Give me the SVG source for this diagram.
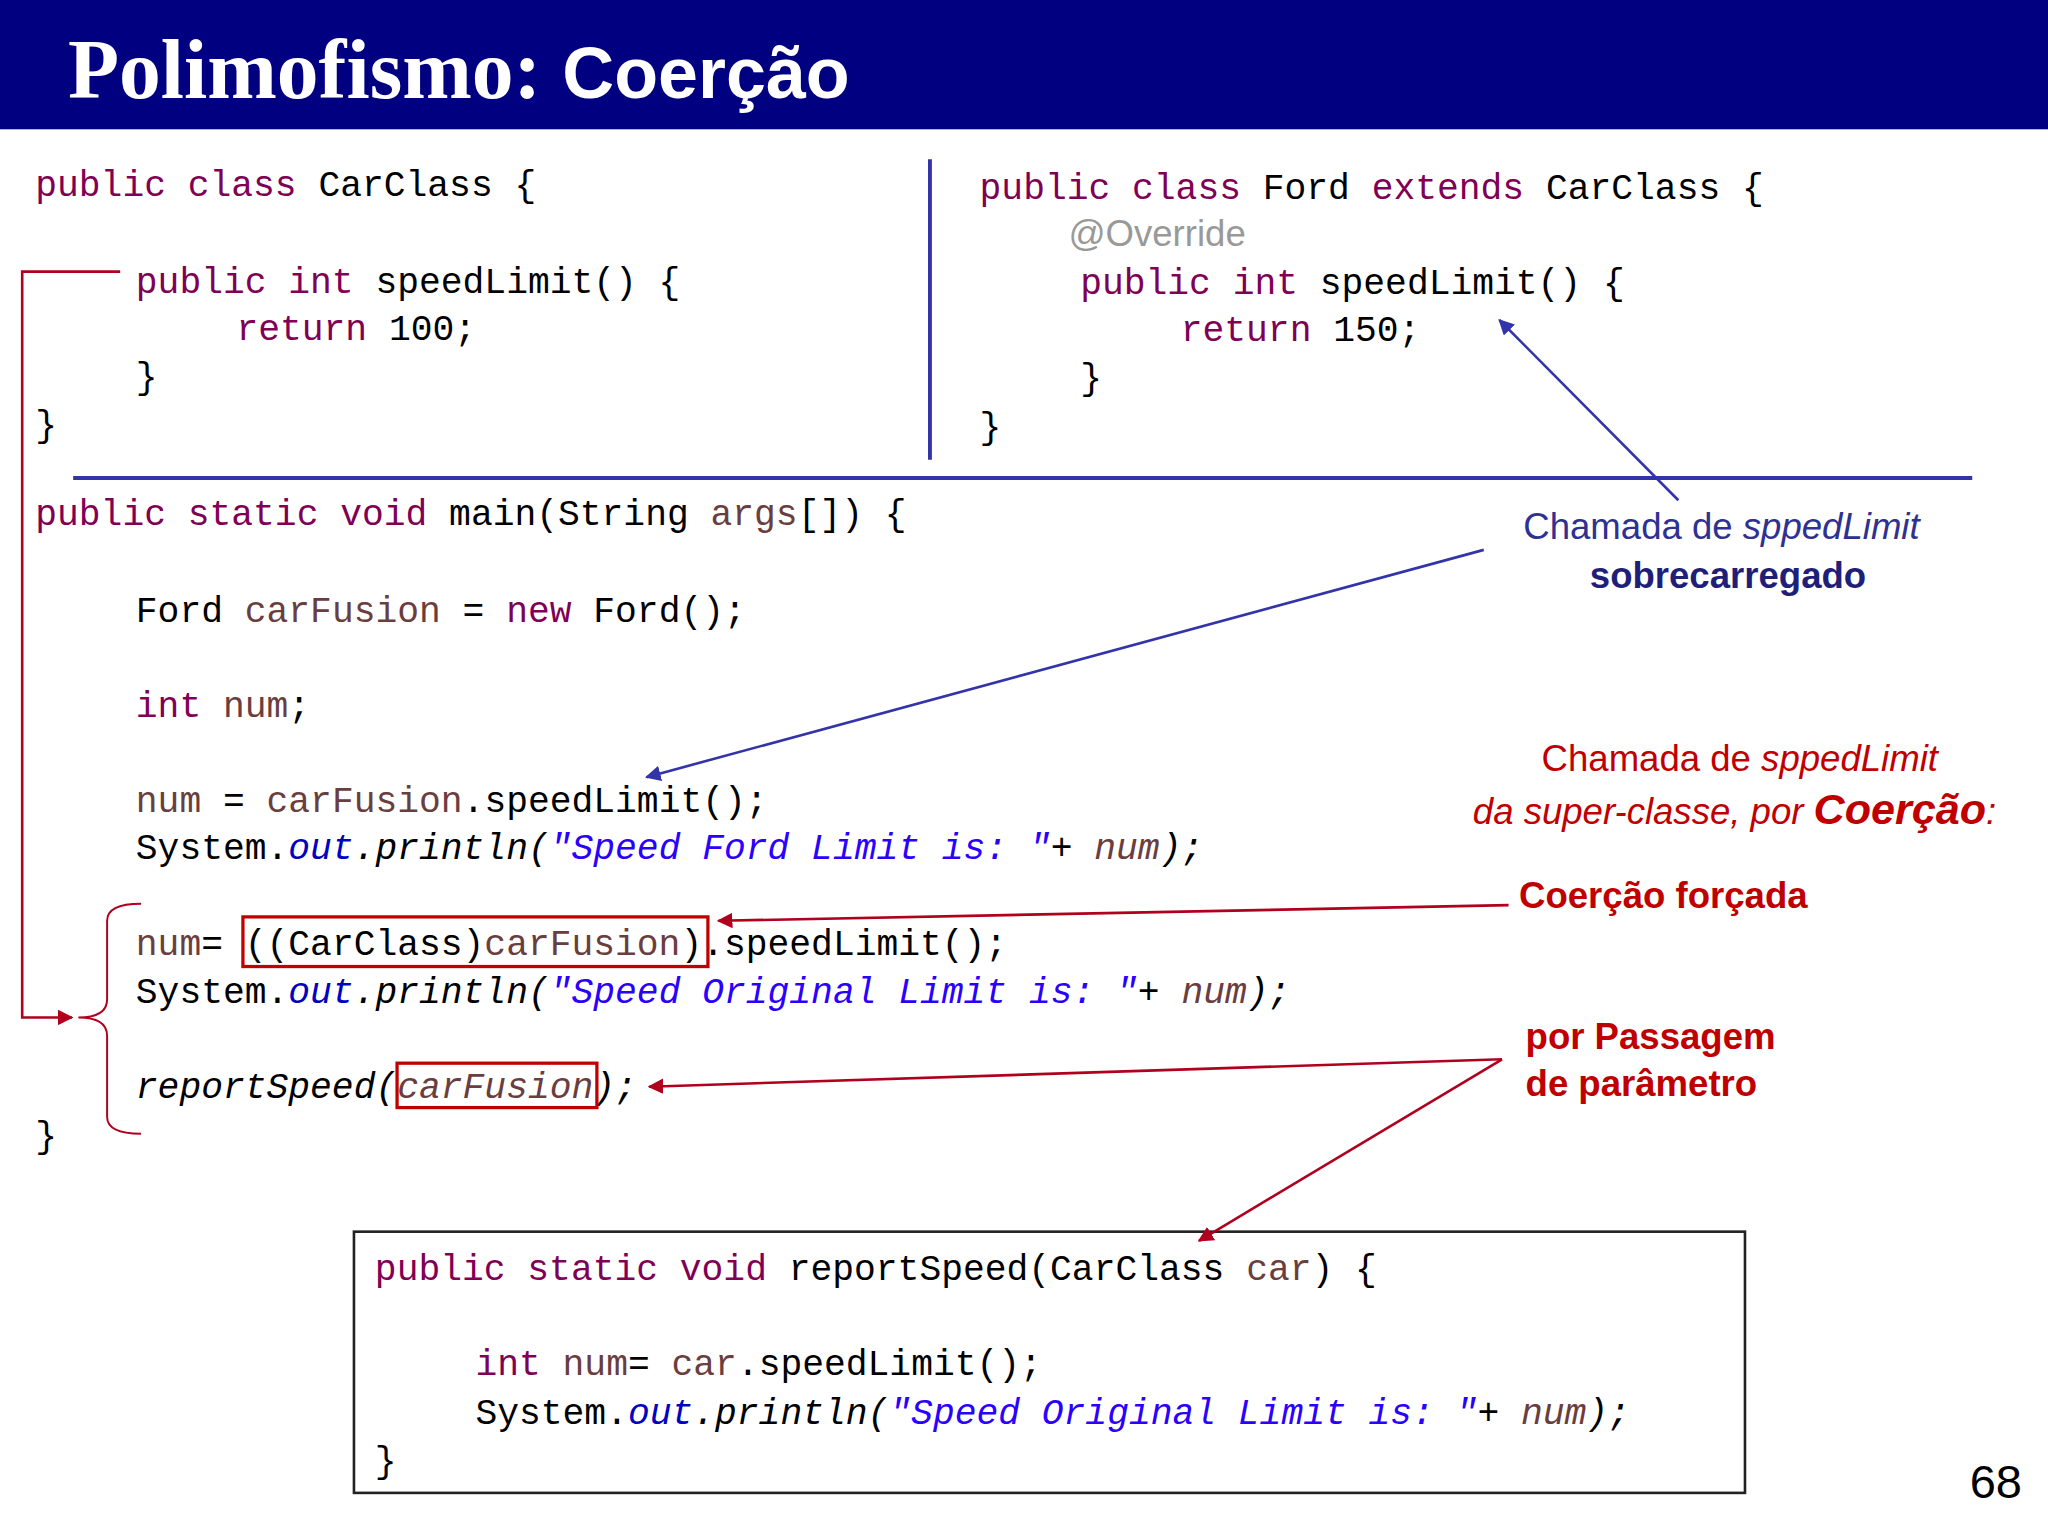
<svg xmlns="http://www.w3.org/2000/svg" width="2048" height="1536" viewBox="0 0 2048 1536">
<style>
.c{font-family:"Liberation Mono","DejaVu Sans Mono",monospace;font-size:27.8px;fill:#000}
.k{fill:#7f0055}.v{fill:#6a3e3e}.f{fill:#0000c0;font-style:italic}.s{fill:#2a00ff;font-style:italic}.i{font-style:italic}
.sb{font-family:"Liberation Sans",Arial,sans-serif;font-size:28px}
.bl{fill:#2e3192}.rd{fill:#c00000}
</style>
<defs>
<marker id="ab" viewBox="0 0 10 10" refX="9" refY="5" markerWidth="6" markerHeight="6" orient="auto"><path d="M0,0L10,5L0,10z" fill="#3333aa"/></marker>
<marker id="ar" viewBox="0 0 10 10" refX="9" refY="5" markerWidth="6" markerHeight="6" orient="auto"><path d="M0,0L10,5L0,10z" fill="#b0001e"/></marker>
</defs>
<rect width="2048" height="1536" fill="#fff"/>
<g transform="scale(1.30612)">
<g id="header">
<rect width="1568" height="99" fill="#000080"/>
<text x="52" y="75" fill="#fff" font-family="'Liberation Serif',serif" font-weight="bold" font-size="64">Polimofismo: <tspan font-family="'Liberation Sans',sans-serif" font-size="55">Coerção</tspan></text>
</g>
<g id="carclass">
<text class="c" x="27" y="150"><tspan class="k">public class</tspan> CarClass {</text>
<text class="c" x="104" y="224"><tspan class="k">public int</tspan> speedLimit() {</text>
<text class="c" x="181" y="260"><tspan class="k">return</tspan> 100;</text>
<text class="c" x="104" y="297">}</text>
<text class="c" x="27" y="334">}</text>
</g>
<g id="ford">
<text class="c" x="750" y="152"><tspan class="k">public class</tspan> Ford <tspan class="k">extends</tspan> CarClass {</text>
<text class="sb" x="818" y="188" fill="#999">@Override</text>
<text class="c" x="827" y="225"><tspan class="k">public int</tspan> speedLimit() {</text>
<text class="c" x="904" y="261"><tspan class="k">return</tspan> 150;</text>
<text class="c" x="827" y="298">}</text>
<text class="c" x="750" y="335">}</text>
</g>
<g id="dividers" stroke="#3333aa" stroke-width="3">
<line x1="712" y1="122" x2="712" y2="352"/>
<line x1="56" y1="366" x2="1510" y2="366"/>
</g>
<g id="main">
<text class="c" x="27" y="402"><tspan class="k">public static void</tspan> main(String <tspan class="v">args</tspan>[]) {</text>
<text class="c" x="104" y="476">Ford <tspan class="v">carFusion</tspan> = <tspan class="k">new</tspan> Ford();</text>
<text class="c" x="104" y="549"><tspan class="k">int</tspan> <tspan class="v">num</tspan>;</text>
<text class="c" x="104" y="622"><tspan class="v">num</tspan> = <tspan class="v">carFusion</tspan>.speedLimit();</text>
<text class="c" x="104" y="658">System.<tspan class="f">out</tspan><tspan class="i">.println(</tspan><tspan class="s">"Speed Ford Limit is: "</tspan><tspan class="i">+ </tspan><tspan class="v i">num</tspan><tspan class="i">);</tspan></text>
<text class="c" x="104" y="731"><tspan class="v">num</tspan>= ((CarClass)<tspan class="v">carFusion</tspan>).speedLimit();</text>
<text class="c" x="104" y="768">System.<tspan class="f">out</tspan><tspan class="i">.println(</tspan><tspan class="s">"Speed Original Limit is: "</tspan><tspan class="i">+ </tspan><tspan class="v i">num</tspan><tspan class="i">);</tspan></text>
<text class="c i" x="104" y="841">reportSpeed(<tspan class="v">carFusion</tspan>);</text>
<text class="c" x="27" y="878">}</text>
<rect x="186" y="702" width="356" height="38" fill="none" stroke="#c00000" stroke-width="2.5"/>
<rect x="304" y="814" width="153" height="34" fill="none" stroke="#c00000" stroke-width="2.5"/>
</g>
<g id="reportSpeed">
<rect x="271" y="943" width="1065" height="200" fill="none" stroke="#222" stroke-width="2"/>
<text class="c" x="287" y="980"><tspan class="k">public static void</tspan> reportSpeed(CarClass <tspan class="v">car</tspan>) {</text>
<text class="c" x="364" y="1053"><tspan class="k">int</tspan> <tspan class="v">num</tspan>= <tspan class="v">car</tspan>.speedLimit();</text>
<text class="c" x="364" y="1090">System.<tspan class="f">out</tspan><tspan class="i">.println(</tspan><tspan class="s">"Speed Original Limit is: "</tspan><tspan class="i">+ </tspan><tspan class="v i">num</tspan><tspan class="i">);</tspan></text>
<text class="c" x="287" y="1127">}</text>
</g>
<g id="labels">
<text class="sb bl" x="1318" y="413" text-anchor="middle">Chamada de <tspan font-style="italic">sppedLimit</tspan></text>
<text class="sb" x="1323" y="450" text-anchor="middle" fill="#1f1f7a" font-weight="bold">sobrecarregado</text>
<text class="sb rd" x="1332" y="590" text-anchor="middle">Chamada de <tspan font-style="italic">sppedLimit</tspan></text>
<text class="sb rd" x="1328" y="631" text-anchor="middle" font-style="italic">da super-classe, por <tspan font-weight="bold" font-size="33">Coerção</tspan>:</text>
<text class="sb rd" x="1163" y="695" font-weight="bold">Coerção forçada</text>
<text class="sb rd" x="1168" y="803" font-weight="bold">por Passagem</text>
<text class="sb rd" x="1168" y="839" font-weight="bold">de parâmetro</text>
<text x="1508" y="1147" font-family="'Liberation Sans',sans-serif" font-size="36">68</text>
</g>
<g id="connectors" fill="none" stroke-width="2">
<line x1="1285" y1="383" x2="1148" y2="245" stroke="#3333aa" marker-end="url(#ab)"/>
<line x1="1136" y1="421" x2="495" y2="595" stroke="#3333aa" marker-end="url(#ab)"/>
<line x1="1155" y1="693" x2="550" y2="705" stroke="#b0001e" marker-end="url(#ar)"/>
<line x1="1150" y1="811" x2="497" y2="832" stroke="#b0001e" marker-end="url(#ar)"/>
<line x1="1150" y1="811" x2="918" y2="950" stroke="#b0001e" marker-end="url(#ar)"/>
<polyline points="92,208 17,208 17,779 55,779" stroke="#b0001e" marker-end="url(#ar)"/>
<path d="M108,692 Q82,692 82,705 L82,765 Q82,779 60,779 Q82,779 82,793 L82,855 Q82,868 108,868" stroke="#b0001e" stroke-width="1.5"/>
</g>
</g>
</svg>
